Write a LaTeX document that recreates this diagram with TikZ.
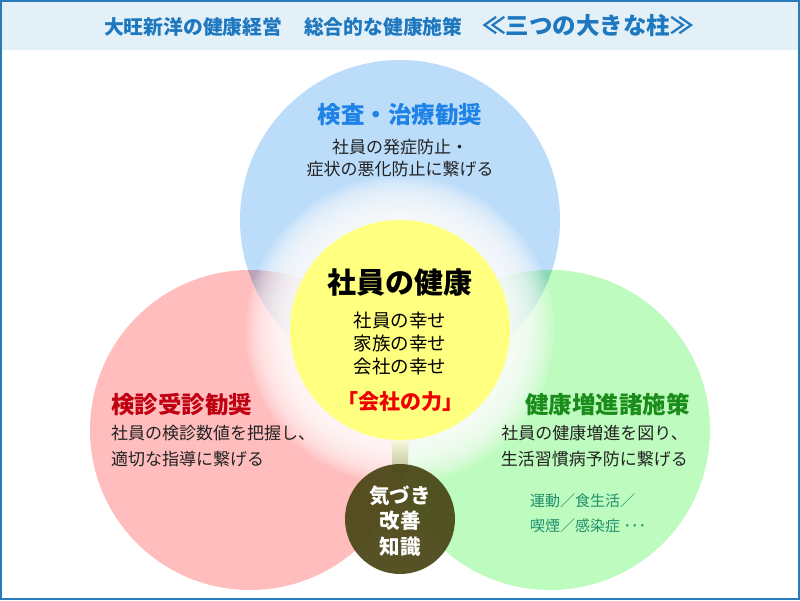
\documentclass[tikz,border=0pt]{standalone}
\usepackage{fontspec}
\newfontfamily\jp{Noto Sans CJK JP}
\usepackage{xcolor}
\definecolor{framecol}{HTML}{2A7AB8}
\definecolor{headbg}{HTML}{E4F0F8}
\definecolor{headtxt}{HTML}{1E78C0}
\definecolor{topfill}{HTML}{BCDDFA}
\definecolor{leftfill}{HTML}{FFBDBD}
\definecolor{rightfill}{HTML}{BEFBBE}
\definecolor{corefill}{HTML}{FFFF80}
\definecolor{seedfill}{RGB}{72,68,20}
\definecolor{toptitle}{HTML}{1E82E6}
\definecolor{lefttitle}{HTML}{C00010}
\definecolor{righttitle}{HTML}{1A8C1A}
\definecolor{coretitle}{HTML}{F00000}
\definecolor{bodytxt}{HTML}{222222}
\definecolor{subtxt}{HTML}{20906E}

\begin{document}
\begin{tikzpicture}[x=1pt,y=-1pt,
  ringtitle/.style={inner sep=0pt,font=\jp\bfseries\fontsize{23.5}{26}\selectfont},
  ringbody/.style={inner sep=0pt,text=bodytxt,font=\jp\fontsize{17}{26.5}\selectfont}]
  \useasboundingbox (0,0) rectangle (800,600);
  \fill[white] (0,0) rectangle (800,600);
  \fill[headbg] (0,0) rectangle (800,50);
  % three pillars
  \begin{scope}[blend mode=multiply]
    \fill[topfill](400,220) circle(160pt);
    \fill[leftfill](250,430) circle(160pt);
    \fill[rightfill](550,430) circle(160pt);
  \end{scope}
  % glow round the core
  \foreach \r in {154,151,...,112}{
    \fill[white,opacity=0.14](400,330) circle(\r pt);
  }
  \shade[top color=white!90!yellow,bottom color={rgb,255:red,190;green,192;blue,150}](392,436) rectangle (408,472);
  \fill[corefill](400,330) circle(110pt);
  \fill[seedfill,opacity=0.92](400,519) circle(55pt);
  \draw[framecol,line width=2pt](1,1) rectangle (799,599);
  % texts
  \node[inner sep=0pt,text=headtxt,font=\jp\bfseries\fontsize{19.8}{22}\selectfont] (head) at (399,25)
    {大旺新洋の健康経営\hspace{1.1em}総合的な健康施策\hspace{1em}{\fontsize{23.5}{24}\selectfont ≪三つの大きな柱≫}};
  \node[ringtitle,text=toptitle] (toph) at (400,115) {検査・治療勧奨};
  \node[ringbody,align=center,font=\jp\fontsize{17}{22}\selectfont] (topb) at (400,158) {社員の発症防止・\\症状の悪化防止に繋げる};
  \node[inner sep=0pt,font=\jp\bfseries\fontsize{29}{32}\selectfont] (coreh) at (400,283) {社員の健康};
  \node[inner sep=0pt,align=center,font=\jp\fontsize{18.5}{23}\selectfont] (coreb) at (400,343) {社員の幸せ\\家族の幸せ\\会社の幸せ};
  \node[ringtitle,text=coretitle,font=\jp\bfseries\fontsize{21}{24}\selectfont] (corep) at (400,402) {「会社の力」};
  \node[ringtitle,text=lefttitle,anchor=west] (lefth) at (111,405) {検診受診勧奨};
  \node[ringbody,align=left,anchor=west] (leftb) at (111,446) {社員の検診数値を把握し、\\適切な指導に繋げる};
  \node[ringtitle,text=righttitle,anchor=east] (righth) at (690,405) {健康増進諸施策};
  \node[ringbody,align=right,anchor=east] (rightb) at (688,446) {社員の健康増進を図り、\\生活習慣病予防に繋げる};
  \node[inner sep=0pt,text=subtxt,align=left,anchor=west,font=\jp\fontsize{15}{25}\selectfont] (rightsub) at (530,513) {運動／食生活／\\喫煙／感染症 ･･･};
  \node[inner sep=0pt,text=white,align=center,font=\jp\bfseries\fontsize{20.5}{25.5}\selectfont] (seedt) at (400,521) {気づき\\改善\\知識};
\end{tikzpicture}
\end{document}
